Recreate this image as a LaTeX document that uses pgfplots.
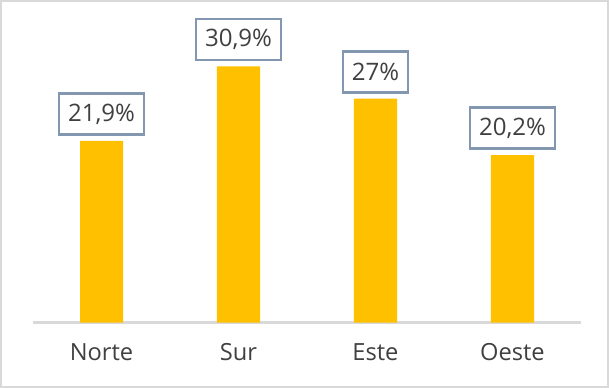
\documentclass[border=0pt]{standalone}
\usepackage{pgfplots}
\pgfplotsset{compat=1.18}
\usepackage{fontspec}
\setmainfont{Open Sans}
\definecolor{bargold}{HTML}{FFC000}
\definecolor{boxborder}{HTML}{8497B0}
\definecolor{txt}{HTML}{404040}
\definecolor{axgray}{HTML}{D9D9D9}
\begin{document}
\begin{tikzpicture}
\draw[axgray, line width=1pt, fill=white] (-16pt,-32pt) rectangle (287pt,160.5pt);
\begin{axis}[
  at={(0,0)}, anchor=south west,
  scale only axis,
  width=273.5pt, height=156pt,
  xmin=-0.5, xmax=3.5,
  ymin=0, ymax=37.7,
  axis x line*=bottom,
  axis y line=none,
  x axis line style={axgray, line width=1.1pt, -},
  xtick={0,1,2,3},
  xticklabels={Norte,Sur,Este,Oeste},
  major tick length=0pt,
  xticklabel style={font=\fontsize{11.8}{13}\selectfont, text=txt, yshift=-7pt},
  ybar, bar width=21.5pt,
  nodes near coords,
  point meta=explicit symbolic,
  every node near coord/.append style={draw=boxborder, line width=1.3pt, fill=white, text=txt,
     font=\fontsize{12}{13}\selectfont, inner xsep=4.5pt, minimum height=20.5pt, anchor=south, yshift=2.5pt},
  clip=false,
]
\addplot[fill=bargold, draw=none] coordinates {
  (0,21.9) [21,9\%]
  (1,30.9) [30,9\%]
  (2,27.0) [27\%]
  (3,20.2) [20,2\%]
};
\end{axis}
\end{tikzpicture}
\end{document}
